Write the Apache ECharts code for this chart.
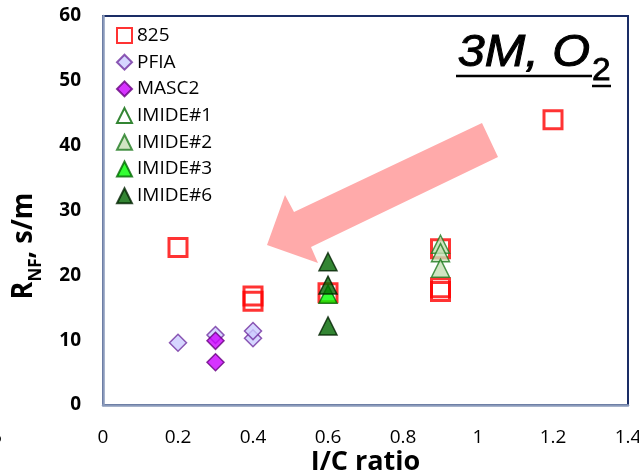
<!DOCTYPE html>
<html>
<head>
<meta charset="utf-8">
<script src="https://cdn.jsdelivr.net/npm/echarts@6/dist/echarts.min.js"></script>
<style>
html,body{margin:0;padding:0;background:#fff;}
#chart{width:639px;height:476px;}
</style>
</head>
<body>
<div id="chart"></div>
<script>
// ---- data ----
const seriesNames = ['825', 'PFIA', 'MASC2', 'IMIDE#1', 'IMIDE#2', 'IMIDE#3', 'IMIDE#6'];
const x825 = [0.2, 0.4, 0.4, 0.6, 0.9, 0.9, 0.9, 1.2];
const y825 = [24.3, 16.8, 16.0, 17.3, 24.1, 18.1, 17.5, 44.0];
const xPFIA = [0.2, 0.3, 0.4, 0.4];
const yPFIA = [9.6, 10.8, 10.3, 11.4];
const xMASC2 = [0.3, 0.3];
const yMASC2 = [9.9, 6.6];
const xIMIDE1 = [];
const yIMIDE1 = [];
const xIMIDE2 = [0.9, 0.9, 0.9];
const yIMIDE2 = [24.8, 23.5, 21.1];
const xIMIDE3 = [0.6];
const yIMIDE3 = [17.1];
const xIMIDE6 = [0.6, 0.6, 0.6];
const yIMIDE6 = [22.1, 18.5, 12.2];
const xTickLabels = ['0', '0.2', '0.4', '0.6', '0.8', '1', '1.2', '1.4'];
const yTickLabels = ['0', '10', '20', '30', '40', '50', '60'];
const xTitle = 'I/C ratio';
const yTitleMain = 'R';
const yTitleSub = 'NF';
const yTitleRest = ', s/m';
const annoMain = '3M, O';
const annoSub = '2';

function pairs(xs, ys) { return xs.map((x, i) => [x, ys[i]]); }

const chart = echarts.init(document.getElementById('chart'), null, {renderer: 'canvas'});

// measure text for the rotated y-axis title
const ctx = document.createElement('canvas').getContext('2d');
function tw(txt, font) { ctx.font = font; return ctx.measureText(txt).width; }
const fMain = 'bold 27px "Open Sans"';
const fSub = 'bold 17px "Open Sans"';
const wR = tw(yTitleMain, fMain), wS = tw(yTitleSub, fSub), wRest = tw(yTitleRest, fMain);
const W = wR + wS + wRest;
const x0 = -W / 2;

const FONT = '"Open Sans"';

const option = {
  animation: false,
  backgroundColor: '#fff',
  grid: {left: 103, right: 11, top: 16, bottom: 71, show: true, borderColor: '#1a2d66', borderWidth: 2,
    backgroundColor: 'transparent', outerBoundsMode: 'none', containLabel: false},
  xAxis: {
    type: 'value', min: 0, max: 1.4, interval: 0.2,
    axisLine: {show: true, onZero: false, lineStyle: {color: '#8a9abb', width: 2.5}},
    axisTick: {show: false}, splitLine: {show: false},
    axisLabel: {margin: 23, fontSize: 19, fontFamily: FONT, color: '#000',
      formatter: v => xTickLabels[Math.round(v / 0.2)] ?? ''},
    name: xTitle, nameLocation: 'middle', nameGap: 44, nameMoveOverlap: false,
    nameTextStyle: {fontSize: 27, fontWeight: 'bold', fontFamily: FONT, color: '#000'}
  },
  yAxis: {
    type: 'value', min: 0, max: 60, interval: 10,
    axisLine: {show: true, lineStyle: {color: '#8a9abb', width: 2.5}},
    axisTick: {show: false}, splitLine: {show: false},
    axisLabel: {margin: 22, fontSize: 19, fontWeight: 'bold', fontFamily: FONT, color: '#000',
      formatter: v => yTickLabels[Math.round(v / 10)] ?? ''}
  },
  legend: {
    orient: 'vertical', left: 111, top: 21, itemGap: 7.7, itemWidth: 15, itemHeight: 15,
    textStyle: {fontSize: 19, fontFamily: FONT, color: '#000', lineHeight: 18},
    data: seriesNames
  },
  series: [
    {name: '825', type: 'scatter', symbol: 'rect', symbolSize: 18, data: pairs(x825, y825),
      itemStyle: {color: 'rgba(255,255,255,0)', borderColor: '#ff0000', borderWidth: 3}},
    {name: 'PFIA', type: 'scatter', symbol: 'diamond', symbolSize: 17, data: pairs(xPFIA, yPFIA),
      itemStyle: {color: '#ccccff', borderColor: '#7030a0', borderWidth: 1.5}},
    {name: 'MASC2', type: 'scatter', symbol: 'diamond', symbolSize: 17, data: pairs(xMASC2, yMASC2),
      itemStyle: {color: '#cc00ff', borderColor: '#660080', borderWidth: 1.5}},
    {name: 'IMIDE#1', type: 'scatter', symbol: 'triangle', symbolSize: 18, data: pairs(xIMIDE1, yIMIDE1),
      itemStyle: {color: '#ffffff', borderColor: '#006600', borderWidth: 1.5}},
    {name: 'IMIDE#2', type: 'scatter', symbol: 'triangle', symbolSize: 18, data: pairs(xIMIDE2, yIMIDE2),
      itemStyle: {color: '#c5dfb4', borderColor: '#1e7b1e', borderWidth: 1.5}},
    {name: 'IMIDE#3', type: 'scatter', symbol: 'triangle', symbolSize: 18, data: pairs(xIMIDE3, yIMIDE3),
      itemStyle: {color: '#00ff00', borderColor: '#006600', borderWidth: 1.5}},
    {name: 'IMIDE#6', type: 'scatter', symbol: 'triangle', symbolSize: 18, data: pairs(xIMIDE6, yIMIDE6),
      itemStyle: {color: '#006600', borderColor: '#002200', borderWidth: 1.5}}
  ],
  graphic: [
    // pink arrow annotation
    {type: 'polygon', z: 1, silent: true,
      shape: {points: [[267, 245], [285, 195], [294, 212], [482, 123], [498, 157], [311, 247], [318, 263]]},
      style: {fill: '#ffaaaa'}},
    // annotation text 3M, O2
    {type: 'text', z: 10, x: 590, y: 53, scaleX: 1.08, style: {text: annoMain, align: 'right', verticalAlign: 'middle',
      font: 'italic 45px "Liberation Sans"', fill: '#000', stroke: '#000', lineWidth: 1}},
    {type: 'text', z: 10, x: 592, y: 71, scaleX: 1.08, style: {text: annoSub, align: 'left', verticalAlign: 'middle',
      font: '31px "Liberation Sans"', fill: '#000', stroke: '#000', lineWidth: 0.8}},
    {type: 'line', z: 10, shape: {x1: 456, y1: 76, x2: 592, y2: 76}, style: {stroke: '#000', lineWidth: 2.5}},
    {type: 'line', z: 10, shape: {x1: 592, y1: 86, x2: 611, y2: 86}, style: {stroke: '#000', lineWidth: 2.5}},
    // rotated y-axis title with subscript
    {type: 'group', x: 24, y: 246, rotation: Math.PI / 2, scaleY: 1.08, children: [
      {type: 'text', x: x0, y: 0, style: {text: yTitleMain, font: fMain, align: 'left', verticalAlign: 'middle', fill: '#000'}},
      {type: 'text', x: x0 + wR, y: 11, style: {text: yTitleSub, font: fSub, align: 'left', verticalAlign: 'middle', fill: '#000'}},
      {type: 'text', x: x0 + wR + wS, y: 0, style: {text: yTitleRest, font: fMain, align: 'left', verticalAlign: 'middle', fill: '#000'}}
    ]},
    // clipped label fragment at far left
    {type: 'text', x: -9, y: 438, style: {text: '6', font: '19px "Open Sans"', align: 'left', verticalAlign: 'middle', fill: '#000'}}
  ]
};
chart.setOption(option);
</script>
</body>
</html>
